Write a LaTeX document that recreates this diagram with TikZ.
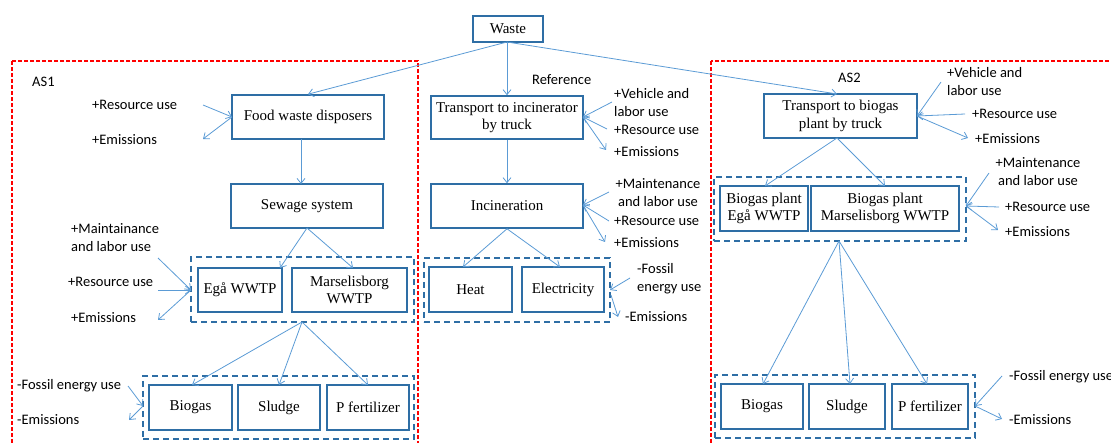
\documentclass[tikz,border=0pt]{standalone}
\usepackage{fontspec}
\setmainfont{Liberation Serif}
\newfontfamily\boxfont{Liberation Serif}
\newfontfamily\lblfont{Carlito}
\usetikzlibrary{arrows.meta}
\definecolor{boxblue}{RGB}{46,110,165}
\definecolor{arrblue}{RGB}{91,155,213}
\tikzset{
  box/.style={draw=boxblue, line width=1.6pt, inner sep=0pt, align=center,
    font=\boxfont\fontsize{15}{17.5}\selectfont},
  grp/.style={draw=boxblue, line width=1.5pt, dash pattern=on 6pt off 4pt, inner sep=0pt},
  lbl/.style={inner sep=0pt, anchor=west, align=left, font=\lblfont\fontsize{14.5}{18}\selectfont},
  arr/.style={draw=arrblue, line width=0.8pt, -{Straight Barb[length=5pt,width=8pt]}},
  reddash/.style={draw=red, line width=1.2pt, dash pattern=on 4pt off 2pt}
}
\begin{document}
\begin{tikzpicture}[x=1pt,y=-1pt]
\useasboundingbox (0,0) rectangle (1111,443);
\clip (0,0) rectangle (1111,443);
% red dashed regions
\draw[reddash] (12,61) rectangle (418,452);
\draw[reddash] (711,61) rectangle (1125,452);

% boxes
\node[box, minimum width=70pt, minimum height=26pt] (waste) at (508,29) {Waste};
\node[box, minimum width=152pt, minimum height=44pt] (fwd) at (308,117) {Food waste disposers};
\node[box, minimum width=152pt, minimum height=44pt] (sew) at (307,206) {Sewage system};
\node[grp, minimum width=223pt, minimum height=65pt] (g1) at (302.5,289.5) {};
\node[box, minimum width=84pt, minimum height=44pt] (ega) at (240,290) {Egå WWTP};
\node[box, minimum width=115pt, minimum height=44pt] (mars) at (349.5,290) {Marselisborg\\WWTP};
\node[grp, minimum width=271pt, minimum height=63pt] (g2) at (278.5,407.5) {};
\node[box, minimum width=83pt, minimum height=45pt] (bio1) at (190.5,407.5) {Biogas};
\node[box, minimum width=82pt, minimum height=45pt] (slu1) at (279,407.5) {Sludge};
\node[box, minimum width=82pt, minimum height=45pt] (pf1) at (368,407.5) {P fertilizer};

\node[box, minimum width=152pt, minimum height=43pt] (tinc) at (507,117.5) {Transport to incinerator\\by truck};
\node[box, minimum width=152pt, minimum height=44pt] (inc) at (507,206) {Incineration};
\node[grp, minimum width=186pt, minimum height=64pt] (g3) at (517,290) {};
\node[box, minimum width=83pt, minimum height=45pt] (heat) at (470.5,289.5) {Heat};
\node[box, minimum width=82pt, minimum height=45pt] (elec) at (563,289.5) {Electricity};

\node[box, minimum width=153pt, minimum height=44pt] (tbio) at (840.5,116) {Transport to biogas\\plant by truck};
\node[grp, minimum width=252pt, minimum height=64pt] (g4) at (840,209) {};
\node[box, minimum width=88pt, minimum height=45pt] (bega) at (764,208.5) {Biogas plant\\Egå WWTP};
\node[box, minimum width=148pt, minimum height=45pt] (bmars) at (885,208.5) {Biogas plant\\Marselisborg WWTP};
\node[grp, minimum width=260pt, minimum height=63pt] (g5) at (845,406.5) {};
\node[box, minimum width=82pt, minimum height=45pt] (bio2) at (762,406.5) {Biogas};
\node[box, minimum width=76pt, minimum height=45pt] (slu2) at (847,406.5) {Sludge};
\node[box, minimum width=76pt, minimum height=45pt] (pf2) at (930,406.5) {P fertilizer};

% labels
\node[lbl] (as1) at (32,82) {AS1};
\node[lbl] (l1) at (92,105) {+Resource use};
\node[lbl] (l2) at (92,140) {+Emissions};
\node[lbl] (l3) at (71,238) {+Maintainance\\and labor use};
\node[lbl] (l4) at (68,282) {+Resource use};
\node[lbl] (l5) at (71,318) {+Emissions};
\node[lbl] (l6) at (17,386) {-Fossil energy use};
\node[lbl] (l7) at (17,420) {-Emissions};

\node[lbl] (ref) at (532,80) {Reference};
\node[lbl] (m1) at (614,103) {+Vehicle and\\labor use};
\node[lbl] (m2) at (614,130) {+Resource use};
\node[lbl] (m3) at (614,152) {+Emissions};
\node[lbl, anchor=center, align=center] (m4) at (658,193) {+Maintenance\\and labor use};
\node[lbl] (m5) at (614,221) {+Resource use};
\node[lbl] (m6) at (614,243) {+Emissions};
\node[lbl] (m7) at (637,279) {-Fossil\\energy use};
\node[lbl] (m8) at (625,317) {-Emissions};

\node[lbl] (as2) at (838,78) {AS2};
\node[lbl] (r1) at (947,82) {+Vehicle and\\labor use};
\node[lbl] (r2) at (972,114) {+Resource use};
\node[lbl] (r3) at (975,139) {+Emissions};
\node[lbl, anchor=center, align=center] (r4) at (1038,172) {+Maintenance\\and labor use};
\node[lbl] (r5) at (1005,207) {+Resource use};
\node[lbl] (r6) at (1005,232) {+Emissions};
\node[lbl] (r7) at (1009,377) {-Fossil energy use};
\node[lbl] (r8) at (1009,420) {-Emissions};

% main flow
\coordinate (wb) at (507,42);
\draw[arr] (wb) -- (fwd.north);
\draw[arr] (wb) -- (tinc.north);
\draw[arr] (wb) -- (837,94);
\draw[arr] (301,139) -- (301,184);
\coordinate (sb) at (307,228);
\draw[arr] (sb) -- (280,268);
\draw[arr] (sb) -- (353,268);
\coordinate (g1b) at (302,322);
\draw[arr] (g1b) -- (192,385);
\draw[arr] (g1b) -- (279,385);
\draw[arr] (g1b) -- (368,385);
\draw[arr] (tinc.south) -- (inc.north);
\draw[arr] (inc.south) -- (463,267);
\draw[arr] (inc.south) -- (560,267);
\coordinate (tbb) at (837,138);
\draw[arr] (tbb) -- (765,186);
\draw[arr] (tbb) -- (885,186);
\coordinate (g4b) at (839,241);
\draw[arr] (g4b) -- (763,384);
\draw[arr] (g4b) -- (850,384);
\draw[arr] (g4b) -- (927,384);

% side arrows AS1
\coordinate (fw) at (232,117);
\draw[arr] (203,105) -- (fw);
\draw[arr] (fw) -- (203,139);
\coordinate (g1w) at (191,290);
\draw[arr] (158,258) -- (g1w);
\draw[arr] (158,290) -- (g1w);
\draw[arr] (g1w) -- (158,320);
\coordinate (g2w) at (143,406);
\draw[arr] (128,386) -- (g2w);
\draw[arr] (g2w) -- (129,420);

% side arrows reference
\coordinate (te) at (583,117);
\draw[arr] (612,102) -- (te);
\draw[arr] (607,129) -- (te);
\draw[arr] (te) -- (606,150);
\coordinate (ie) at (583,205);
\draw[arr] (609,192) -- (ie);
\draw[arr] (609,221) -- (ie);
\draw[arr] (ie) -- (605,242);
\coordinate (g3e) at (610,290);
\draw[arr] (630,278) -- (g3e);
\draw[arr] (611,295) -- (618,317);

% side arrows AS2
\coordinate (tbe) at (917,116);
\draw[arr] (941,82) -- (tbe);
\draw[arr] (965,114) -- (tbe);
\draw[arr] (tbe) -- (968,138);
\coordinate (g4e) at (966,206);
\draw[arr] (989,173) -- (g4e);
\draw[arr] (999,207) -- (g4e);
\draw[arr] (g4e) -- (998,230);
\coordinate (g5e) at (975,406);
\draw[arr] (1002,376) -- (g5e);
\draw[arr] (g5e) -- (1002,419);
\end{tikzpicture}
\end{document}
